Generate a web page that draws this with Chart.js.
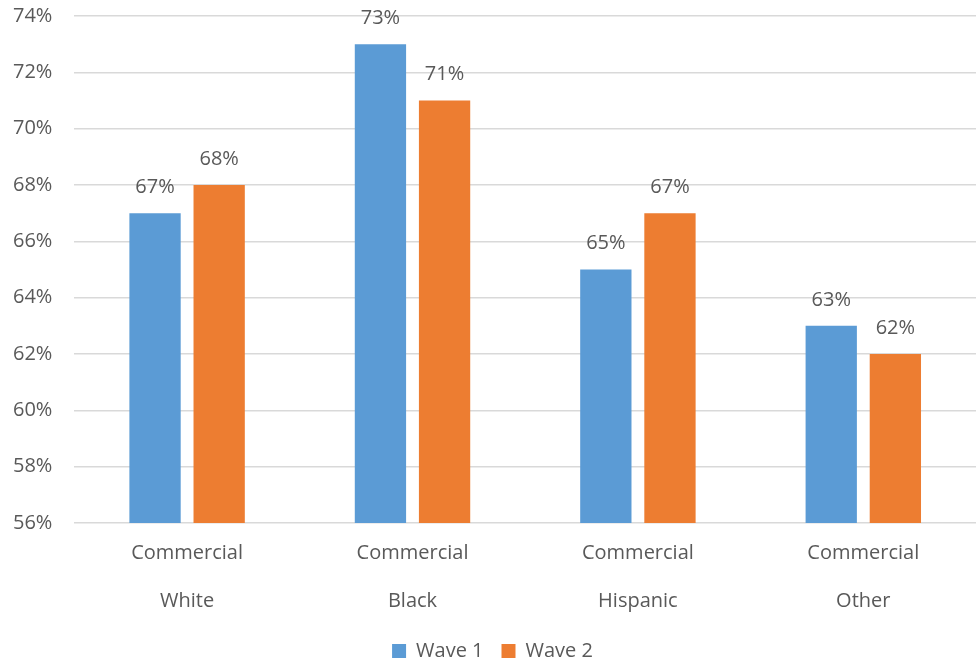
<!DOCTYPE html>
<html>
<head>
<meta charset="utf-8">
<script src="https://cdn.jsdelivr.net/npm/chart.js@4/dist/chart.umd.min.js"></script>
<style>
  html, body { margin: 0; padding: 0; background: #fff; }
  #wrap { width: 976px; height: 663px; }
</style>
</head>
<body>
<div id="wrap"><canvas id="raceChart"></canvas></div>
<script>
const categories = [['Commercial', 'White'], ['Commercial', 'Black'], ['Commercial', 'Hispanic'], ['Commercial', 'Other']];
const wave1 = [67, 73, 65, 63];
const wave2 = [68, 71, 67, 62];
const seriesNames = ['Wave 1', 'Wave 2'];

const textColor = '#595959';
const fontFamily = "'Open Sans', 'Liberation Sans', sans-serif";

// draws the value above each bar
const barLabels = {
  id: 'barLabels',
  afterDatasetsDraw(chart) {
    const ctx = chart.ctx;
    ctx.save();
    ctx.fillStyle = textColor;
    ctx.font = '20px ' + fontFamily;
    ctx.textAlign = 'center';
    ctx.textBaseline = 'middle';
    chart.data.datasets.forEach((ds, i) => {
      chart.getDatasetMeta(i).data.forEach((bar, j) => {
        ctx.fillText(ds.data[j] + '%', bar.x, bar.y - 26);
      });
    });
    ctx.restore();
  }
};

const config = {
  type: 'bar',
  data: {
    labels: categories,
    datasets: [
      {
        label: seriesNames[0],
        data: wave1,
        backgroundColor: '#5b9bd5',
        barPercentage: 0.8,
        categoryPercentage: 0.569
      },
      {
        label: seriesNames[1],
        data: wave2,
        backgroundColor: '#ed7d31',
        barPercentage: 0.8,
        categoryPercentage: 0.569
      }
    ]
  },
  options: {
    responsive: true,
    maintainAspectRatio: false,
    animation: false,
    layout: { padding: { top: 0, right: 0, left: 9, bottom: -8 } },
    plugins: {
      legend: {
        position: 'bottom',
        labels: {
          color: textColor,
          font: { size: 20, family: fontFamily },
          boxWidth: 14,
          boxHeight: 14,
          padding: 18
        }
      },
      tooltip: { enabled: false }
    },
    scales: {
      x: {
        grid: { display: false },
        border: { display: false },
        ticks: {
          color: textColor,
          font: { size: 20, family: fontFamily, lineHeight: 2.4 },
          padding: -2
        }
      },
      y: {
        min: 56,
        max: 74,
        border: { display: false },
        grid: { color: '#d9d9d9', lineWidth: 1.5, drawTicks: true, tickLength: 18, tickColor: 'rgba(0,0,0,0)' },
        ticks: {
          stepSize: 2,
          color: textColor,
          font: { size: 20, family: fontFamily },
          padding: 4,
          callback: v => v + '%'
        }
      }
    }
  },
  plugins: [barLabels]
};

new Chart('raceChart', config);
</script>
</body>
</html>
